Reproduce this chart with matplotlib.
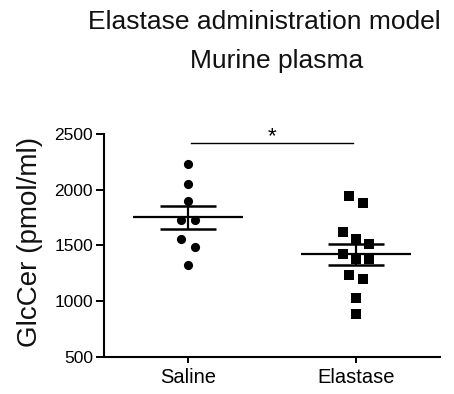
import numpy as np
import matplotlib
matplotlib.use("Agg")
import matplotlib.pyplot as plt

plt.rcParams["font.family"] = ["Liberation Sans", "DejaVu Sans"]

# GlcCer in murine plasma (pmol/ml)
groups = ["Saline", "Elastase"]
saline = [2232, 2050, 1895, 1732, 1732, 1559, 1487, 1320]
elastase = [1946, 1881, 1622, 1553, 1508, 1419, 1374, 1374, 1231, 1201, 1031, 882]
y_ticks = [500, 1000, 1500, 2000, 2500]
sig_label = "*"


def swarm_offsets(values, row_height=130, step=0.08):
    """Group points into rows of similar value and spread each row symmetrically."""
    order = np.argsort(values)[::-1]
    offsets = np.zeros(len(values))
    rows, current = [], []
    for idx in order:
        if current and values[current[0]] - values[idx] >= row_height:
            rows.append(current)
            current = []
        current.append(idx)
    rows.append(current)
    for row in rows:
        n = len(row)
        for i, idx in enumerate(row):
            offsets[idx] = (i - (n - 1) / 2) * step
    return offsets


fig = plt.figure(figsize=(4.54, 3.94), dpi=100)
ax = fig.add_axes([0.2291, 0.0947, 0.7401, 0.5652])

markers = ["o", "s"]
for pos, (vals, mk) in enumerate(zip([saline, elastase], markers)):
    vals = np.array(vals, dtype=float)
    xs = pos + swarm_offsets(vals)
    ax.plot(xs, vals, linestyle="none", marker=mk, ms=6.6, color="black",
            markeredgewidth=0, zorder=3, clip_on=False)

    mean = vals.mean()
    sem = vals.std(ddof=1) / np.sqrt(len(vals))
    ax.hlines(mean, pos - 0.33, pos + 0.33, color="black", lw=1.6, zorder=4)
    ax.hlines([mean - sem, mean + sem], pos - 0.165, pos + 0.165,
              color="black", lw=1.8, zorder=4)
    ax.vlines(pos, mean - sem, mean + sem, color="black", lw=1.6, zorder=4)

# significance bracket
bar_y = 2418
ax.plot([0.02, 0.985], [bar_y, bar_y], color="black", lw=1.0, clip_on=False)
ax.text(0.5, bar_y + 5, sig_label, ha="center", va="baseline", fontsize=16,
        clip_on=False)

ax.set_xlim(-0.5, 1.5)
ax.set_ylim(500, 2500)
ax.set_xticks(range(len(groups)))
ax.set_xticklabels(groups, fontsize=14.5)
ax.set_yticks(y_ticks)
ax.set_yticklabels([str(t) for t in y_ticks], fontsize=12.5)
ax.tick_params(axis="y", length=5.5, width=1.4, pad=2.5)
ax.tick_params(axis="x", length=4.5, width=1.4, pad=4)
for side in ["top", "right"]:
    ax.spines[side].set_visible(False)
for side in ["left", "bottom"]:
    ax.spines[side].set_linewidth(1.5)

fig.text(30 / 454, 1 - 242 / 394, "GlcCer (pmol/ml)", rotation=90,
         ha="center", va="center", fontsize=20, color="#111111")

fig.text(264 / 454, 1 - 29.3 / 394, "Elastase administration model",
         ha="center", va="baseline", fontsize=19, color="#111111")
fig.text(277 / 454, 1 - 68.3 / 394, "Murine plasma",
         ha="center", va="baseline", fontsize=19, color="#111111")

fig.savefig("out.png", dpi=100)
